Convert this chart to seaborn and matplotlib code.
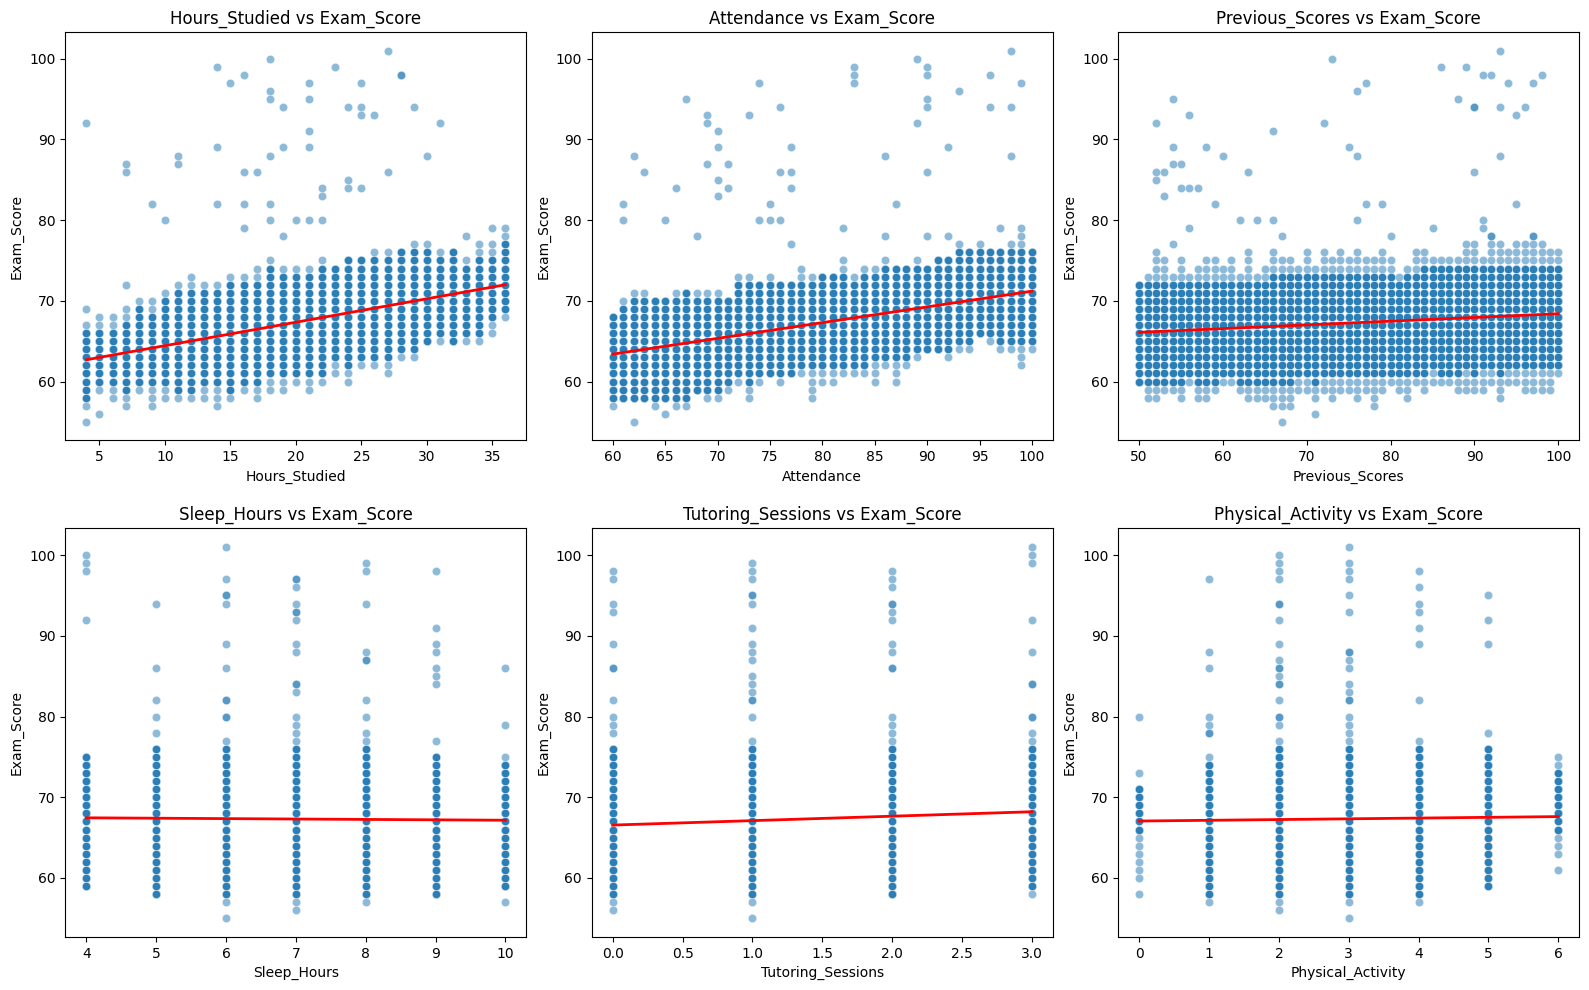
import matplotlib
matplotlib.use("Agg")
import matplotlib.pyplot as plt
import seaborn as sns
import pandas as pd

# columns of points: for every x value the band of scores
# (lo..hi, drawn once) and its dense core (drawn several times so it looks dark)

# Hours_Studied
hours_x = list(range(4, 37))
hours_lo = [57, 59, 58, 57, 59, 57, 58, 58, 58, 58, 57, 58, 59, 58, 59, 59, 60,
            59, 60, 61, 60, 62, 62, 61, 63, 63, 65, 65, 65, 65, 65, 66, 68]
hours_hi = [67, 68, 68, 69, 70, 70, 71, 72, 73, 72, 72, 73, 73, 74, 75, 74, 74,
            74, 75, 74, 75, 75, 76, 76, 76, 77, 77, 76, 76, 75, 77, 77, 79]
hours_core_lo = [58, 60, 60, 59, 60, 60, 60, 59, 59, 60, 60, 59, 60, 60, 61, 61, 61,
                 61, 61, 63, 62, 63, 63, 63, 64, 64, 65, 66, 65, 66, 66, 68, 69]
hours_core_hi = [66, 66, 66, 67, 69, 68, 70, 71, 71, 71, 71, 72, 72, 72, 74, 73, 73,
                 73, 74, 74, 75, 75, 75, 75, 76, 76, 76, 75, 76, 74, 75, 75, 77]
hours_extra = {4: [55, 69, 92], 5: [56], 7: [72, 86, 87], 9: [82], 10: [80],
               11: [87, 88], 14: [82, 89, 99], 15: [97], 16: [79, 82, 86, 98],
               17: [86], 18: [80, 82, 88, 95, 96, 100], 19: [78, 89, 94], 20: [80],
               21: [80, 89, 91, 95, 97], 22: [80, 83, 84], 23: [99],
               24: [84, 85, 94], 25: [84, 93, 94, 97], 26: [93], 27: [86, 101],
               28: [98, 98], 29: [94], 30: [88], 31: [92], 33: [78], 35: [79]}
hours_line = [(4, 62.7), (36, 72.0)]

# Attendance
att_x = list(range(60, 101))
att_lo = [57, 58, 58, 58, 57, 58, 57, 57, 59, 58, 58, 59, 60, 58, 60, 61, 60, 61, 61, 58, 60,
          60, 61, 61, 61, 60, 62, 60, 62, 63, 64, 64, 63, 64, 64, 66, 65, 64, 64, 62, 64]
att_hi = [68, 70, 71, 71, 70, 70, 71, 71, 71, 71, 71, 70, 73, 73, 72, 73, 72, 72, 74, 73, 73,
          73, 75, 73, 74, 74, 75, 74, 74, 75, 74, 75, 75, 77, 76, 77, 76, 76, 77, 79, 76]
att_core_lo = [58, 58, 58, 58, 58, 58, 58, 58, 59, 59, 59, 60, 61, 60, 61, 61, 61, 61, 62, 62, 62,
               62, 62, 62, 62, 63, 63, 63, 63, 64, 64, 64, 64, 65, 65, 66, 66, 65, 65, 65, 65]
att_core_hi = [68, 69, 70, 70, 70, 70, 70, 71, 70, 70, 70, 70, 72, 72, 72, 72, 72, 72, 72, 72, 73,
               73, 73, 72, 73, 73, 74, 74, 74, 74, 74, 75, 75, 76, 76, 76, 76, 76, 76, 76, 76]
att_extra = {61: [80, 82], 62: [55, 88], 63: [86], 65: [56, 80], 66: [84], 67: [95],
             68: [78], 69: [87, 92, 93], 70: [83, 85, 89, 91], 71: [84, 87], 73: [93],
             74: [80, 97], 75: [80, 82], 76: [80, 86, 94], 77: [77, 84, 86, 89],
             82: [79], 83: [97, 98, 99], 86: [78, 88], 87: [82], 89: [92, 100],
             90: [78, 86, 94, 95, 98, 99], 92: [78, 89], 93: [96], 96: [94, 98],
             97: [79], 98: [88, 94, 101], 99: [97]}
att_line = [(60, 63.4), (100, 71.2)]

# Previous_Scores
prev_x = list(range(50, 101))
prev_lo = [60, 58, 58, 59, 59, 58, 60, 58, 58, 59, 60, 60, 59, 58, 58, 58, 57,
           57, 57, 59, 59, 58, 59, 58, 59, 59, 58, 59, 57, 59, 60, 59, 58, 60,
           59, 60, 60, 60, 59, 59, 59, 59, 60, 58, 60, 60, 59, 59, 59, 59, 61]
prev_hi = [72, 73, 76, 75, 73, 75, 73, 74, 75, 75, 74, 75, 73, 76, 73, 74, 76,
           75, 75, 74, 76, 74, 76, 75, 76, 75, 76, 75, 75, 76, 75, 73, 74, 76,
           76, 75, 75, 75, 75, 77, 77, 75, 78, 77, 76, 77, 77, 78, 77, 76, 76]
prev_core_lo = [60, 60, 60, 60, 60, 60, 61, 60, 60, 60, 61, 61, 60, 60, 60, 60, 60,
                60, 60, 61, 61, 60, 61, 61, 61, 61, 61, 61, 61, 61, 61, 61, 61, 61,
                61, 62, 61, 61, 61, 62, 61, 62, 62, 61, 62, 62, 62, 62, 62, 62, 62]
prev_core_hi = [72, 72, 72, 72, 72, 72, 72, 72, 72, 72, 72, 72, 72, 72, 72, 72, 73,
                73, 73, 73, 73, 73, 73, 73, 73, 73, 73, 73, 73, 73, 73, 72, 73, 73,
                74, 74, 74, 74, 74, 74, 74, 74, 74, 74, 74, 74, 74, 74, 74, 74, 74]
prev_extra = {52: [85, 86, 92], 53: [83, 86], 54: [77, 87, 89, 95], 55: [84, 87],
              56: [79, 84, 93], 57: [84], 58: [89], 59: [82], 60: [88], 62: [80],
              63: [86], 64: [80], 66: [80, 91], 67: [55, 78], 71: [56], 72: [92],
              73: [100], 75: [89], 76: [80, 88, 96], 77: [82, 97], 79: [82], 80: [78],
              85: [79], 86: [99], 88: [95], 89: [99], 90: [86, 94, 94], 91: [79, 80, 98],
              92: [78, 98], 93: [88, 94, 101], 94: [97], 95: [82, 93], 96: [94],
              97: [78, 97], 98: [98]}
prev_line = [(50, 66.1), (100, 68.4)]

# Sleep_Hours
sleep_x = [4, 5, 6, 7, 8, 9, 10]
sleep_lo = [59, 58, 58, 58, 58, 58, 59]
sleep_hi = [75, 76, 76, 76, 76, 75, 75]
sleep_core_lo = [59, 58, 58, 58, 58, 58, 59]
sleep_core_hi = [75, 76, 76, 76, 76, 75, 74]
sleep_extra = {4: [92, 98, 99, 100], 5: [78, 80, 82, 86, 94],
               6: [55, 57, 77, 80, 80, 82, 82, 86, 89, 94, 95, 95, 97, 101],
               7: [56, 57, 77, 78, 79, 80, 83, 84, 84, 88, 89, 92, 93, 93, 94, 96, 97, 97],
               8: [57, 77, 78, 80, 82, 87, 87, 88, 94, 98, 99],
               9: [77, 84, 85, 86, 88, 89, 91, 98], 10: [57, 79, 86]}
sleep_line = [(4, 67.45), (10, 67.15)]

# Tutoring_Sessions
tutor_x = [0, 1, 2, 3]
tutor_lo = [57, 58, 58, 58]
tutor_hi = [76, 76, 76, 76]
tutor_core_lo = [58, 58, 58, 59]
tutor_core_hi = [76, 76, 76, 76]
tutor_extra = {0: [56, 78, 79, 80, 82, 86, 86, 89, 93, 94, 97, 98],
               1: [55, 57, 77, 80, 82, 82, 83, 84, 85, 87, 88, 89, 91, 94, 95, 95, 97, 98, 99],
               2: [77, 78, 79, 80, 86, 86, 88, 89, 92, 93, 94, 94, 96, 97, 98],
               3: [77, 78, 80, 80, 84, 84, 88, 92, 99, 100, 101]}
tutor_line = [(0, 66.55), (3, 68.2)]

# Physical_Activity
phys_x = [0, 1, 2, 3, 4, 5, 6]
phys_lo = [60, 57, 57, 57, 57, 59, 63]
phys_hi = [71, 75, 76, 76, 77, 76, 75]
phys_core_lo = [66, 58, 58, 58, 58, 59, 66]
phys_core_hi = [71, 74, 76, 76, 76, 76, 73]
phys_extra = {0: [58, 73, 80], 1: [78, 78, 79, 80, 86, 88, 97],
              2: [56, 77, 79, 80, 80, 82, 84, 84, 85, 86, 86, 87, 89, 92, 94, 94, 97, 98, 99, 100],
              3: [55, 77, 78, 79, 80, 82, 82, 83, 84, 86, 87, 88, 88, 93, 95, 97, 98, 99, 101],
              4: [82, 89, 91, 93, 94, 96, 98], 5: [78, 89, 92, 95], 6: [61]}
phys_line = [(0, 67.05), (6, 67.6)]


def build(name, xs, lo, hi, core_lo, core_hi, extra):
    rows = []
    for i, x in enumerate(xs):
        for y in range(lo[i], hi[i] + 1):
            rows.append((x, y))
        for y in range(core_lo[i], core_hi[i] + 1):
            rows += [(x, y)] * 3
    for x, ys in extra.items():
        rows += [(x, y) for y in ys]
    return pd.DataFrame(rows, columns=[name, "Exam_Score"])


panels = [
    ("Hours_Studied", hours_x, hours_lo, hours_hi, hours_core_lo, hours_core_hi, hours_extra, hours_line),
    ("Attendance", att_x, att_lo, att_hi, att_core_lo, att_core_hi, att_extra, att_line),
    ("Previous_Scores", prev_x, prev_lo, prev_hi, prev_core_lo, prev_core_hi, prev_extra, prev_line),
    ("Sleep_Hours", sleep_x, sleep_lo, sleep_hi, sleep_core_lo, sleep_core_hi, sleep_extra, sleep_line),
    ("Tutoring_Sessions", tutor_x, tutor_lo, tutor_hi, tutor_core_lo, tutor_core_hi, tutor_extra, tutor_line),
    ("Physical_Activity", phys_x, phys_lo, phys_hi, phys_core_lo, phys_core_hi, phys_extra, phys_line),
]

fig, axes = plt.subplots(2, 3, figsize=(15.89, 9.9))

for ax, (name, xs, lo, hi, clo, chi, extra, line) in zip(axes.flat, panels):
    df = build(name, xs, lo, hi, clo, chi, extra)
    sns.scatterplot(data=df, x=name, y="Exam_Score", alpha=0.5, ax=ax)
    sns.lineplot(x=[p[0] for p in line], y=[p[1] for p in line],
                 color="red", linewidth=2, ax=ax)
    ax.set_title(name + " vs Exam_Score", fontsize=12)
    ax.set_xlabel(name)
    ax.set_ylabel("Exam_Score")

plt.tight_layout(pad=0.7, h_pad=1.6)
plt.savefig("out.png", dpi=100)
